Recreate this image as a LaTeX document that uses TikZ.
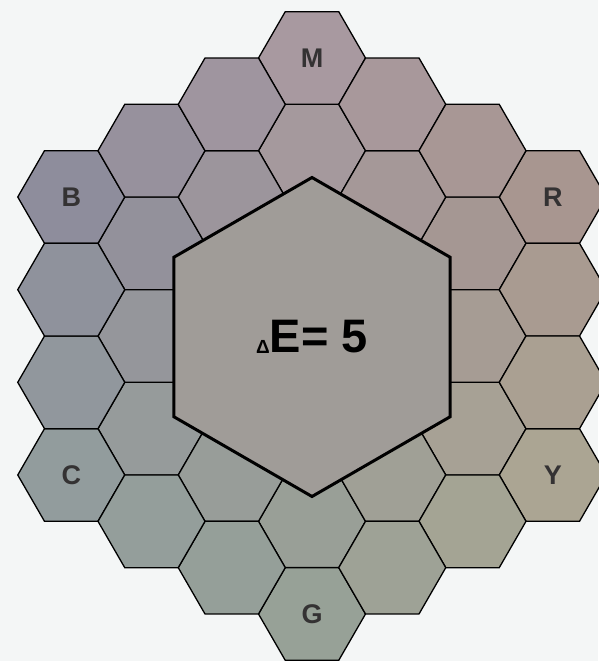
\documentclass[tikz,border=0pt]{standalone}
\usepackage{fontspec}
\setmainfont{Liberation Sans}
\usetikzlibrary{shapes.geometric}
\definecolor{bgc}{RGB}{244,246,246}
\definecolor{cBase}{RGB}{158,154,152}
\definecolor{cM}{RGB}{168,153,160}
\definecolor{cR}{RGB}{168,150,144}
\definecolor{cY}{RGB}{171,165,147}
\definecolor{cG}{RGB}{151,161,151}
\definecolor{cC}{RGB}{146,156,157}
\definecolor{cB}{RGB}{142,141,156}
\definecolor{bigfill}{RGB}{160,156,152}
\definecolor{lblc}{RGB}{52,50,51}
\begin{document}
\begin{tikzpicture}[x=1pt,y=1pt,
  hexcell/.style={shape=regular polygon, regular polygon sides=6, minimum size=107pt,
    inner sep=0pt, draw=black, line width=1.3pt},
  bighex/.style={shape=regular polygon, regular polygon sides=6, shape border rotate=30,
    minimum size=319pt, inner sep=0pt, draw=black, line width=3pt, fill=bigfill},
  lbl/.style={font=\fontsize{27}{27}\selectfont\bfseries, text=lblc}]
\fill[bgc] (0,0) rectangle (598,661);
\useasboundingbox (0,0) rectangle (598,661);
\foreach \q/\r/\c/\n in {
  0/0/cBase/o,
  0/1/cM!33!cBase/a1, 1/0/cR!33!cBase/a2, 1/-1/cY!33!cBase/a3,
  0/-1/cG!33!cBase/a4, -1/0/cC!33!cBase/a5, -1/1/cB!33!cBase/a6,
  0/2/cM!67!cBase/b1, 2/0/cR!67!cBase/b2, 2/-2/cY!67!cBase/b3,
  0/-2/cG!67!cBase/b4, -2/0/cC!67!cBase/b5, -2/2/cB!67!cBase/b6,
  1/1/cM!50!cR!67!cBase/b7, 2/-1/cR!50!cY!67!cBase/b8, 1/-2/cY!50!cG!67!cBase/b9,
  -1/-1/cG!50!cC!67!cBase/b10, -2/1/cC!50!cB!67!cBase/b11, -1/2/cB!50!cM!67!cBase/b12,
  0/3/cM/hM, 3/0/cR/hR, 3/-3/cY/hY, 0/-3/cG/hG, -3/0/cC/hC, -3/3/cB/hB,
  1/2/cM!67!cR/c1, 2/1/cM!33!cR/c2,
  3/-1/cR!67!cY/c3, 3/-2/cR!33!cY/c4,
  2/-3/cY!67!cG/c5, 1/-3/cY!33!cG/c6,
  -1/-2/cG!67!cC/c7, -2/-1/cG!33!cC/c8,
  -3/1/cC!67!cB/c9, -3/2/cC!33!cB/c10,
  -2/3/cB!67!cM/c11, -1/3/cB!33!cM/c12}
  \node[hexcell, fill=\c] (\n) at ({312+80.25*(\q)},{325+92.66*((\r)+(\q)/2)}) {};
\node[lbl] (lM) at (hM.center) {M};
\node[lbl] (lR) at (hR.center) {R};
\node[lbl] (lY) at (hY.center) {Y};
\node[lbl] (lG) at (hG.center) {G};
\node[lbl] (lC) at (hC.center) {C};
\node[lbl] (lB) at (hB.center) {B};
\node[bighex, font=\fontsize{47}{47}\selectfont\bfseries] (big) at (312,324)
  {\raisebox{-1pt}{\fontsize{19}{19}\selectfont Δ}E= 5};
\end{tikzpicture}
\end{document}
